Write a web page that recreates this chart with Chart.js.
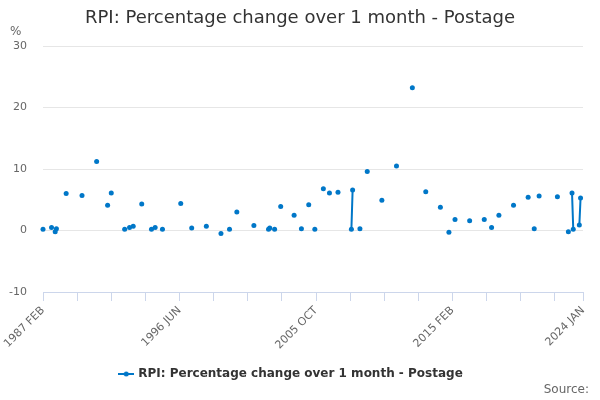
<!DOCTYPE html>
<html>
<head>
<meta charset="utf-8">
<script src="https://cdn.jsdelivr.net/npm/chart.js@4.4.1/dist/chart.umd.min.js"></script>
<style>
  html, body { margin: 0; padding: 0; background: #fff; }
  #wrap { position: relative; width: 600px; height: 400px; font-family: "DejaVu Sans", sans-serif; }
  #title { position: absolute; left: 0; top: 6px; width: 600px; text-align: center; font-size: 18px; color: #333; }
  #unit { position: absolute; left: 10px; top: 24px; font-size: 12px; color: #666; }
  #source { position: absolute; right: 11px; top: 382px; font-size: 12px; color: #666; }
</style>
</head>
<body>
<div id="wrap">
  <canvas id="chart" width="600" height="400"></canvas>
  <div id="title">RPI: Percentage change over 1 month - Postage</div>
  <div id="unit">%</div>
  <div id="source">Source:</div>
</div>
<script>
// Months that carry a value (all other months are empty)
const pointMonths = [
  '1987 FEB', '1987 SEP', '1987 DEC', '1988 JAN', '1988 SEP', '1989 OCT', '1990 OCT',
  '1991 JUL', '1991 OCT', '1992 SEP', '1993 JAN', '1993 APR', '1993 NOV', '1994 JUL',
  '1994 OCT', '1995 APR', '1996 JUL', '1997 APR', '1998 APR', '1999 APR', '1999 NOV',
  '2000 MAY', '2001 JUL', '2002 JUL', '2002 AUG', '2002 DEC', '2003 MAY', '2004 APR',
  '2004 OCT', '2005 APR', '2005 SEP', '2006 APR', '2006 SEP', '2007 APR', '2008 MAR',
  '2008 APR', '2008 OCT', '2009 APR', '2010 APR', '2011 APR', '2012 MAY', '2013 APR',
  '2014 APR', '2014 NOV', '2015 APR', '2016 APR', '2017 APR', '2017 OCT', '2018 APR',
  '2019 APR', '2020 APR', '2020 SEP', '2021 JAN', '2022 APR', '2023 JAN', '2023 APR',
  '2023 MAY', '2023 OCT', '2023 NOV'
];
const pointValues = [
  0.2, 0.5, -0.2, 0.3, 6.0, 5.7, 11.2,
  4.1, 6.1, 0.2, 0.5, 0.7, 4.3, 0.2,
  0.5, 0.2, 4.4, 0.4, 0.7, -0.5, 0.2,
  3.0, 0.8, 0.2, 0.4, 0.2, 3.9, 2.5,
  0.3, 4.2, 0.2, 6.8, 6.1, 6.2, 0.2,
  6.6, 0.3, 9.6, 4.9, 10.5, 23.2, 6.3,
  3.8, -0.3, 1.8, 1.6, 1.8, 0.5, 2.5,
  4.1, 5.4, 0.3, 5.6, 5.5, -0.2, 6.1,
  0.2, 0.9, 5.3
];

const monthNames = ['JAN', 'FEB', 'MAR', 'APR', 'MAY', 'JUN', 'JUL', 'AUG', 'SEP', 'OCT', 'NOV', 'DEC'];
const firstYear = 1987, firstMonth = 1;   // 1987 FEB
const lastYear = 2024, lastMonth = 0;     // 2024 JAN

// Build every month label on the axis
let labels = [];
for (let y = firstYear, m = firstMonth; y < lastYear || (y === lastYear && m <= lastMonth); ) {
  labels.push(y + ' ' + monthNames[m]);
  m++;
  if (m > 11) { m = 0; y++; }
}

// Series with gaps where there is no value
let series = labels.map(() => null);
pointMonths.forEach((month, i) => {
  series[labels.indexOf(month)] = pointValues[i];
});

const blue = '#0077c8';
const tickStep = 28;     // minor tick every 28 months
const labelStep = 112;   // label every 112 months

// Legend symbol: short line with a dot
function legendSymbol() {
  let c = document.createElement('canvas');
  c.width = 16; c.height = 8;
  let g = c.getContext('2d');
  g.strokeStyle = blue; g.lineWidth = 2;
  g.beginPath(); g.moveTo(0, 4); g.lineTo(16, 4); g.stroke();
  g.fillStyle = blue;
  g.beginPath(); g.arc(8, 4, 2.5, 0, Math.PI * 2); g.fill();
  return c;
}

new Chart(document.getElementById('chart'), {
  type: 'line',
  data: {
    labels: labels,
    datasets: [{
      label: 'RPI: Percentage change over 1 month - Postage',
      data: series,
      borderColor: blue,
      backgroundColor: blue,
      borderWidth: 2,
      pointRadius: 2.5,
      pointHoverRadius: 3,
      pointBorderWidth: 0,
      spanGaps: false,
      pointStyle: 'circle'
    }]
  },
  options: {
    responsive: false,
    animation: false,
    layout: { padding: { left: 0, right: 17, top: 46, bottom: 10 } },
    plugins: {
      title: { display: false },
      legend: {
        position: 'bottom',
        labels: {
          color: '#333',
          font: { family: 'DejaVu Sans', size: 12, weight: 'bold' },
          usePointStyle: true,
          generateLabels: chart => chart.data.datasets.map((ds, i) => ({
            text: ds.label,
            pointStyle: legendSymbol(),
            datasetIndex: i,
            fontColor: '#333',
            lineWidth: 0
          }))
        }
      },
      tooltip: { enabled: false }
    },
    scales: {
      x: {
        type: 'category',
        offset: false,
        border: { display: true, color: '#ccd6eb', width: 1 },
        grid: { display: true, drawOnChartArea: false, drawTicks: true, tickLength: 9, color: '#ccd6eb' },
        afterBuildTicks: scale => {
          scale.ticks = scale.ticks.filter(t => t.value % tickStep === 0 || t.value === labels.length - 1);
        },
        afterFit: scale => { scale.height = 66; },
        ticks: {
          autoSkip: false,
          maxRotation: 45,
          minRotation: 45,
          color: '#666',
          font: { family: 'DejaVu Sans', size: 11 },
          callback: function (value) {
            if (value % labelStep === 0 || value === labels.length - 1) return this.getLabelForValue(value);
            return '';
          }
        }
      },
      y: {
        min: -10,
        max: 30,
        border: { display: false },
        grid: { color: '#e6e6e6', drawTicks: false },
        afterFit: scale => { scale.width = 43; },
        ticks: {
          stepSize: 10,
          padding: 16,
          color: '#666',
          font: { family: 'DejaVu Sans', size: 11 }
        }
      }
    }
  }
});
</script>
</body>
</html>
